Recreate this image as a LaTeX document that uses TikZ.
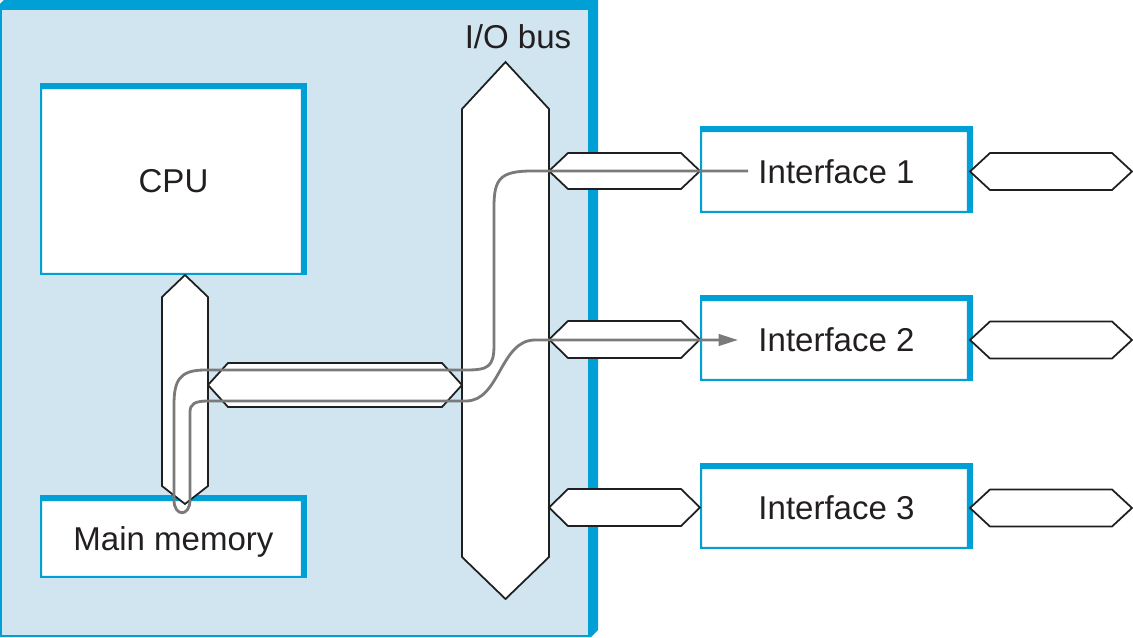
\documentclass[tikz,border=0pt]{standalone}
\usepackage{fontspec}
\setmainfont{Liberation Sans}
\usetikzlibrary{arrows.meta}
\definecolor{cblue}{RGB}{0,160,214}
\definecolor{cpale}{RGB}{208,229,240}
\definecolor{cgray}{RGB}{122,122,122}
\definecolor{ctext}{RGB}{35,31,32}
\newcommand{\hbus}[5]{\draw[bus] (#1,#3) -- ({#1+#5},{#3+#4}) -- ({#2-#5},{#3+#4}) -- (#2,#3) -- ({#2-#5},{#3-#4}) -- ({#1+#5},{#3-#4}) -- cycle;}
\begin{document}
\begin{tikzpicture}[x=0.02cm,y=0.02cm,
  lbl/.style={font=\fontsize{18.8}{22}\selectfont, text=ctext},
  panel/.style={lbl, fill=white, draw=none, inner sep=0pt, outer sep=0pt, text height=15.8pt, text depth=0pt},
  bus/.style={draw=black!88, line width=1pt, fill=white, line join=miter},
  gpath/.style={draw=cgray, line width=1.6pt}]
\useasboundingbox (0,0) rectangle (1133,637);
% computer enclosure
\fill[cblue] (0,633) -- (4,637) -- (598,637) -- (598,7) -- (591,0) -- (0,0) -- cycle;
\fill[cpale] (2,2) rectangle (588,627);
\node[lbl] (iolabel) at (518,600) {I/O bus};
% boxes
\node[panel, minimum width=5.34cm, minimum height=3.84cm] (cpu) at (173.5,458) {CPU};
\node[panel, minimum width=5.34cm, minimum height=1.66cm] (mem) at (173.5,100.5) {Main memory};
\node[panel, minimum width=5.46cm, minimum height=1.74cm] (if1) at (836.5,467.5) {Interface 1};
\node[panel, minimum width=5.46cm, minimum height=1.72cm] (if2) at (836.5,299) {Interface 2};
\node[panel, minimum width=5.46cm, minimum height=1.72cm] (if3) at (836.5,131) {Interface 3};
\foreach \n in {cpu,mem,if1,if2,if3}
  \fill[cblue, even odd rule] (\n.south west) rectangle (\n.north east)
     ([shift={(2,2)}]\n.south west) rectangle ([shift={(-6,-6)}]\n.north east);
% memory bus
\draw[bus] (185,362) -- (208,340) -- (208,151) -- (185,133) -- (162,151) -- (162,340) -- cycle;
\hbus{208}{462}{252}{22}{20}
% I/O bus
\draw[bus] (505.5,575) -- (549,528) -- (549,80) -- (505.5,38) -- (462,80) -- (462,528) -- cycle;
\hbus{549}{700}{466}{18}{19}
\hbus{549}{700}{297.5}{18.5}{19}
\hbus{549}{700}{129.5}{18.5}{19}
\hbus{970}{1132}{465.5}{18.5}{20}
\hbus{970}{1132}{297}{18.5}{20}
\hbus{970}{1132}{129}{18.5}{20}
% data path
\coordinate (p1) at (748,466);
\coordinate (p2) at (738,297);
\draw[gpath, -{Triangle[length=11pt,width=6.5pt]}] (p1) -- (532,466)
  .. controls (500,466) and (494,458) .. (494,430) -- (494,292)
  .. controls (494,270) and (488,267) .. (466,267) -- (205,267)
  .. controls (179,267) and (174,256) .. (174,232) -- (174,137)
  .. controls (174,120) and (190,120) .. (190,137) -- (190,225)
  .. controls (190,233) and (195,236) .. (208,236) -- (466,236)
  .. controls (500,236) and (500,297) .. (535,297) -- (p2);
\end{tikzpicture}
\end{document}
